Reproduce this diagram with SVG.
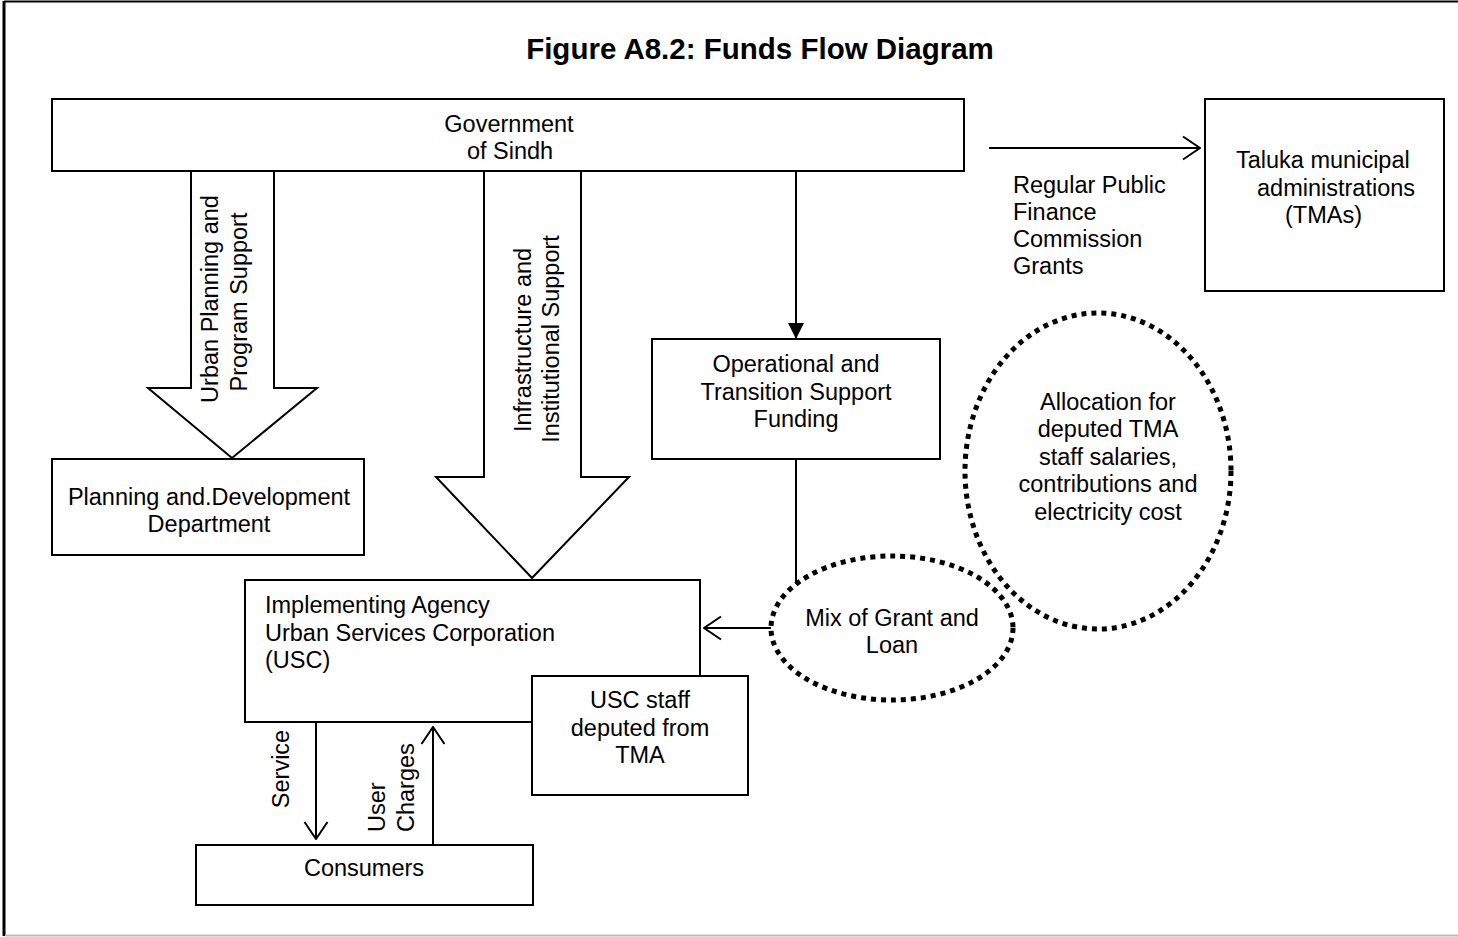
<svg xmlns="http://www.w3.org/2000/svg" width="1458" height="937" viewBox="0 0 1458 937">
<defs>
<style>
.box{fill:#fff;stroke:#000;stroke-width:2}
.ln{fill:none;stroke:#000;stroke-width:2}
.blk{fill:#fff;stroke:#000;stroke-width:2;stroke-linejoin:miter}
.dot{fill:none;stroke:#000;stroke-width:5;stroke-dasharray:5 5}
.t{font-family:"Liberation Sans",Arial,sans-serif;font-size:23.5px;fill:#000}
.c{text-anchor:middle}
.title{font-family:"Liberation Sans",Arial,sans-serif;font-size:29.5px;font-weight:bold;fill:#000;text-anchor:middle}
</style>
<marker id="open" viewBox="0 0 20 26" refX="19" refY="13" markerWidth="20" markerHeight="26" markerUnits="userSpaceOnUse" orient="auto">
<path d="M2,1.5 L19,13 L2,24.5" fill="none" stroke="#000" stroke-width="2"/>
</marker>
<marker id="solid" viewBox="0 0 16 16" refX="16" refY="8" markerWidth="16" markerHeight="16" markerUnits="userSpaceOnUse" orient="auto">
<path d="M0,0 L16,8 L0,16 Z" fill="#000"/>
</marker>
</defs>
<rect width="1458" height="937" fill="#fff"/>
<g id="frame">
<line x1="4" y1="1" x2="4" y2="936" stroke="#000" stroke-width="3"/>
<line x1="4" y1="1.5" x2="1458" y2="1.5" stroke="#000" stroke-width="2"/>
<line x1="5" y1="935.5" x2="1458" y2="935.5" stroke="#bdbdbd" stroke-width="2"/>
</g>
<text class="title" x="760" y="59">Figure A8.2: Funds Flow Diagram</text>

<g id="gov">
<rect class="box" x="52" y="99" width="912" height="72"/>
<text class="t c" x="509" y="132">Government</text>
<text class="t c" x="510" y="159">of Sindh</text>
</g>

<g id="connectors">
<polygon class="blk" points="191,171 274,171 274,388 317,388 232,458 148,388 191,388"/>
<text class="t c" transform="translate(218,299) rotate(-90)">Urban Planning and</text>
<text class="t c" transform="translate(247,302) rotate(-90)">Program Support</text>
<polygon class="blk" points="484,171 581,171 581,477 629,477 532,578 436,477 484,477"/>
<text class="t c" transform="translate(531,340) rotate(-90)">Infrastructure and</text>
<text class="t c" transform="translate(559,339) rotate(-90)">Institutional Support</text>
<line class="ln" x1="989" y1="148" x2="1200" y2="148" marker-end="url(#open)"/>
<text class="t" x="1013" y="193">Regular Public</text>
<text class="t" x="1013" y="220">Finance</text>
<text class="t" x="1013" y="247">Commission</text>
<text class="t" x="1013" y="274">Grants</text>
<line class="ln" x1="796" y1="171" x2="796" y2="339" marker-end="url(#solid)"/>
<line class="ln" x1="796" y1="459" x2="796" y2="584"/>
<line class="ln" x1="771" y1="628" x2="704" y2="628" marker-end="url(#open)"/>
<line class="ln" x1="316" y1="722" x2="316" y2="839" marker-end="url(#open)"/>
<text class="t c" transform="translate(289,769) rotate(-90)">Service</text>
<line class="ln" x1="433" y1="845" x2="433" y2="727" marker-end="url(#open)"/>
<text class="t" transform="translate(385,832) rotate(-90)">User</text>
<text class="t" transform="translate(414,832) rotate(-90)">Charges</text>
</g>

<g id="tma">
<rect class="box" x="1205" y="99" width="239" height="192"/>
<text class="t" x="1236" y="168">Taluka municipal</text>
<text class="t" x="1257" y="196">administrations</text>
<text class="t" x="1285" y="223">(TMAs)</text>
</g>

<g id="pnd">
<rect class="box" x="52" y="459" width="312" height="96"/>
<text class="t c" x="209" y="505">Planning and.Development</text>
<text class="t c" x="209" y="532">Department</text>
</g>

<g id="ops">
<rect class="box" x="652" y="339" width="288" height="120"/>
<text class="t c" x="796" y="372">Operational and</text>
<text class="t c" x="796" y="400">Transition Support</text>
<text class="t c" x="796" y="427">Funding</text>
</g>

<g id="allocation">
<ellipse class="dot" cx="1098" cy="471" rx="133" ry="158"/>
<text class="t c" x="1108" y="410">Allocation for</text>
<text class="t c" x="1108" y="437">deputed TMA</text>
<text class="t c" x="1108" y="465">staff salaries,</text>
<text class="t c" x="1108" y="492">contributions and</text>
<text class="t c" x="1108" y="520">electricity cost</text>
</g>

<g id="mix">
<ellipse class="dot" cx="892" cy="628" rx="121" ry="72"/>
<text class="t c" x="892" y="626">Mix of Grant and</text>
<text class="t c" x="892" y="653">Loan</text>
</g>

<g id="usc">
<rect class="box" x="245" y="580" width="455" height="142"/>
<text class="t" x="265" y="613">Implementing Agency</text>
<text class="t" x="265" y="641">Urban Services Corporation</text>
<text class="t" x="265" y="668">(USC)</text>
</g>

<g id="staff">
<rect class="box" x="532" y="676" width="216" height="119"/>
<text class="t c" x="640" y="708">USC staff</text>
<text class="t c" x="640" y="736">deputed from</text>
<text class="t c" x="640" y="763">TMA</text>
</g>

<g id="consumers">
<rect class="box" x="196" y="845" width="337" height="60"/>
<text class="t c" x="364" y="876">Consumers</text>
</g>
</svg>
